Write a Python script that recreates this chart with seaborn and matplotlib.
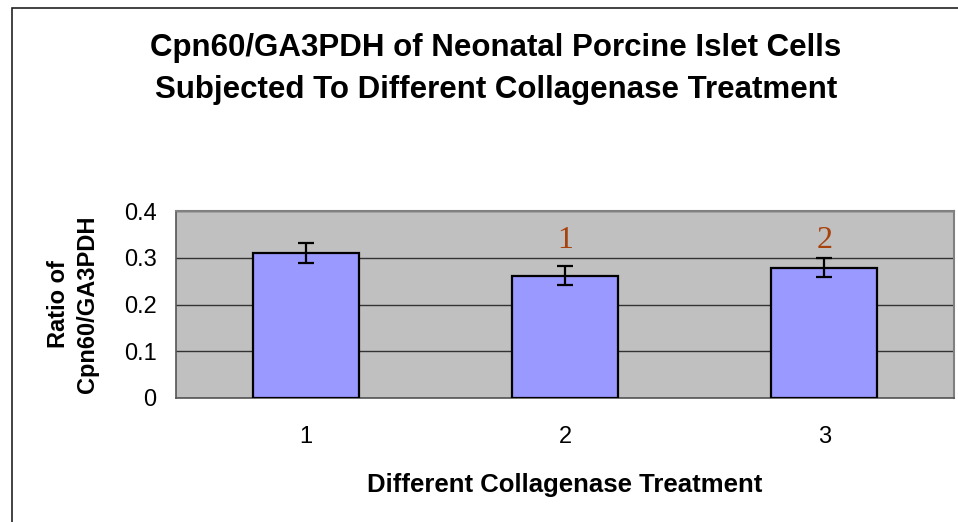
import matplotlib
matplotlib.use("Agg")
import matplotlib.pyplot as plt
import seaborn as sns
import pandas as pd
from matplotlib.patches import Rectangle

# ---- data ----
treatments = ["1", "2", "3"]
ratios = [0.310, 0.262, 0.279]
errors = [0.021, 0.020, 0.021]
marks = ["", "1", "2"]
mark_y = [0.0, 0.337, 0.337]
y_ticks = [0, 0.1, 0.2, 0.3, 0.4]
y_tick_labels = ["0", "0.1", "0.2", "0.3", "0.4"]

title = "Cpn60/GA3PDH of Neonatal Porcine Islet Cells\nSubjected To Different Collagenase Treatment"
x_label = "Different Collagenase Treatment"
y_label = "Ratio of\nCpn60/GA3PDH"

df = pd.DataFrame({"treatment": treatments, "ratio": ratios, "err": errors})

sns.set_style("white")
plt.rcParams["font.family"] = ["Liberation Sans", "DejaVu Sans"]
plt.rcParams["text.color"] = "black"
plt.rcParams["xtick.color"] = "black"
plt.rcParams["ytick.color"] = "black"
plt.rcParams["axes.labelcolor"] = "black"

W, H = 958, 522
fig = plt.figure(figsize=(W / 100, H / 100), dpi=100)
fig.patch.set_facecolor("white")

# outer chart border
fig.patches.append(Rectangle((12 / W, -0.1), 1.2, 1 - 7.5 / H + 0.1, transform=fig.transFigure,
                             fill=False, edgecolor="#222222", linewidth=1.2))

ax = fig.add_axes([176 / W, 1 - 398 / H, (954 - 176) / W, (398 - 211) / H])
ax.set_facecolor("#C0C0C0")

sns.barplot(data=df, x="treatment", y="ratio", ax=ax, color="#9999FF",
            saturation=1, width=0.41, edgecolor="black", linewidth=1.6,
            errorbar=None, zorder=3)

xs = list(range(len(treatments)))
ax.errorbar(xs, df["ratio"], yerr=df["err"], fmt="none", ecolor="black",
            elinewidth=1.6, capsize=6, capthick=1.6, zorder=4)

for x, m, yv in zip(xs, marks, mark_y):
    if m:
        ax.text(x, yv, m, ha="center", va="center", fontsize=23,
                family=["Liberation Serif", "DejaVu Serif"], color="#A8420C", zorder=5)

ax.set_ylim(0, 0.4)
ax.set_xlim(-0.5, 2.5)
ax.set_yticks(y_ticks)
ax.set_yticklabels(y_tick_labels, fontsize=17)
ax.yaxis.grid(True, color="#333333", linewidth=1.0, zorder=0)
ax.set_axisbelow(True)

# x ticks at category boundaries, labels at centres
ax.set_xticks([-0.5, 0.5, 1.5, 2.5])
ax.set_xticklabels([])
ax.set_xticks(xs, minor=True)
ax.set_xticklabels(treatments, minor=True, fontsize=17)
ax.tick_params(axis="x", which="major", direction="out", length=8, width=1.2, color="#666666")
ax.tick_params(axis="x", which="minor", length=0, pad=20)
ax.tick_params(axis="y", direction="out", length=8, width=1.2, color="#666666", pad=6)

for side in ["top", "right"]:
    ax.spines[side].set_color("#808080")
    ax.spines[side].set_linewidth(1.5)
for side in ["left", "bottom"]:
    ax.spines[side].set_color("#555555")
    ax.spines[side].set_linewidth(1.2)

ax.set_xlabel(x_label, fontsize=18.5, fontweight="bold", labelpad=18)
ax.set_ylabel(y_label, fontsize=17, fontweight="bold", va="center", linespacing=1.3)
ax.yaxis.set_label_coords((73 - 176) / (954 - 176), 0.5)

fig.text(496 / W, 1 - 69 / H, title, ha="center", va="center", fontsize=22.5,
         fontweight="bold", linespacing=1.5)

fig.savefig("out.png", dpi=100)
